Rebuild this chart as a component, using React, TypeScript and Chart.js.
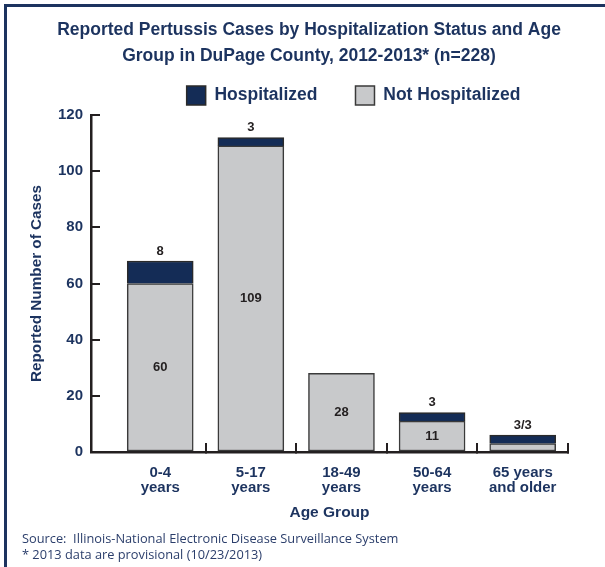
import React, { useEffect, useRef } from 'react';
import { Chart, registerables } from 'chart.js';

Chart.register(...registerables);

// ---- data ----
const ageGroupLabels: string[][] = [
  ['0-4', 'years'],
  ['5-17', 'years'],
  ['18-49', 'years'],
  ['50-64', 'years'],
  ['65 years', 'and older'],
];
const categoryPositions = [0, 1, 2, 3, 4];
const notHospitalized = [60, 109, 28, 11, 3];
const hospitalized = [8, 3, 0, 3, 3];
const notHospitalizedLabels = ['60', '109', '28', '11', ''];
const hospitalizedLabels = ['8', '3', '', '3', '3/3'];
const yTickValues = [0, 20, 40, 60, 80, 100, 120];
const titleLines = [
  'Reported Pertussis Cases by Hospitalization Status and Age',
  'Group in DuPage County, 2012-2013* (n=228)',
];
const sourceLines = [
  'Source:  Illinois-National Electronic Disease Surveillance System',
  '* 2013 data are provisional (10/23/2013)',
];

// ---- styles ----
const FONT = "'Liberation Sans', Arial, sans-serif";
const NAVY_TEXT = '#1c335f';
const NAVY_BAR = '#142c56';
const GRAY_BAR = '#c8c9cb';
const AXIS = '#231f20';

const legendShift = {
  id: 'legendShift',
  afterLayout(chart: any) {
    const lg = chart.legend;
    if (!lg) return;
    const target = 353.5;
    const dx = target - (lg.left + lg.right) / 2;
    lg.left += dx;
    lg.right += dx;
  },
};

const barLabels = {
  id: 'barLabels',
  afterDatasetsDraw(chart: any) {
    const ctx = chart.ctx;
    ctx.save();
    ctx.font = `bold 13px ${FONT}`;
    ctx.fillStyle = AXIS;
    ctx.textAlign = 'center';
    ctx.textBaseline = 'middle';
    const m0 = chart.getDatasetMeta(0);
    const m1 = chart.getDatasetMeta(1);
    m0.data.forEach((el: any, i: number) => {
      const t = notHospitalizedLabels[i];
      if (t) ctx.fillText(t, el.x, (el.y + el.base) / 2);
    });
    m1.data.forEach((el: any, i: number) => {
      const t = hospitalizedLabels[i];
      if (t) ctx.fillText(t, el.x, el.y - 10);
    });
    ctx.restore();
  },
};

export default function App() {
  const ref = useRef<HTMLCanvasElement | null>(null);

  useEffect(() => {
    if (!ref.current) return;
    const axisColor = (c: any) => (c.index === 0 ? 'rgba(0,0,0,0)' : AXIS);
    const chart = new Chart(ref.current, {
      type: 'bar',
      data: {
        datasets: [
          {
            label: 'Not Hospitalized',
            data: categoryPositions.map((x, i) => ({ x, y: notHospitalized[i] })),
            backgroundColor: GRAY_BAR,
            borderColor: '#3a3a3a',
            borderWidth: 1.5,
            borderSkipped: false,
            barThickness: 66,
          },
          {
            label: 'Hospitalized',
            data: categoryPositions.map((x, i) => ({ x, y: hospitalized[i] })),
            backgroundColor: NAVY_BAR,
            borderColor: '#2a2a2a',
            borderWidth: 1.5,
            borderSkipped: 'start',
            barThickness: 66,
          },
        ],
      } as any,
      options: {
        animation: false,
        responsive: false,
        layout: { padding: { top: 0, left: 13, right: 0, bottom: 35 } },
        plugins: {
          title: {
            display: true,
            text: titleLines,
            color: NAVY_TEXT,
            font: { family: FONT, size: 17.5, weight: 'bold', lineHeight: 26 / 17.5 },
            padding: { top: 17, bottom: -21 },
          },
          legend: {
            display: true,
            position: 'top',
            reverse: true,
            labels: {
              boxWidth: 19,
              boxHeight: 19,
              padding: 38,
              color: NAVY_TEXT,
              font: { family: FONT, size: 17.5, weight: 'bold' },
            },
          },
          tooltip: { enabled: false },
        },
        scales: {
          x: {
            type: 'linear',
            min: -0.764,
            max: 4.5,
            offset: false,
            stacked: true,
            afterBuildTicks: (s: any) => {
              s.ticks = categoryPositions.map((v) => ({ value: v }));
            },
            afterFit: (s: any) => {
              s.height = 80;
              s.paddingRight = 37;
              s.paddingLeft = 0;
            },
            ticks: {
              callback: (v: any) => ageGroupLabels[v as number],
              color: NAVY_TEXT,
              font: { family: FONT, size: 15, weight: 'bold', lineHeight: 1.0 },
              padding: 22,
              maxRotation: 0,
              autoSkip: false,
            },
            grid: {
              display: true,
              offset: true,
              drawOnChartArea: false,
              drawTicks: true,
              tickLength: -9,
              color: axisColor,
              tickColor: axisColor,
              lineWidth: 2,
              tickWidth: 2,
            },
            border: { display: true, color: AXIS, width: 2.5 },
            title: {
              display: true,
              text: 'Age Group',
              color: NAVY_TEXT,
              font: { family: FONT, size: 15.5, weight: 'bold', lineHeight: 1.2 },
              padding: { top: 0, bottom: 10 },
            },
          },
          y: {
            min: 0,
            max: 120,
            stacked: true,
            afterBuildTicks: (s: any) => {
              s.ticks = yTickValues.map((v) => ({ value: v }));
            },
            afterFit: (s: any) => {
              s.width = 78;
            },
            ticks: {
              color: NAVY_TEXT,
              font: { family: FONT, size: 15, weight: 'bold' },
              padding: 17,
            },
            grid: {
              display: true,
              drawOnChartArea: false,
              drawTicks: true,
              tickLength: -9,
              color: AXIS,
              tickColor: AXIS,
              lineWidth: 2,
              tickWidth: 2,
            },
            border: { display: true, color: AXIS, width: 2.5 },
            title: {
              display: true,
              text: 'Reported Number of Cases',
              color: NAVY_TEXT,
              font: { family: FONT, size: 15.3, weight: 'bold', lineHeight: 1.2 },
              padding: { top: 14.5, bottom: 0 },
            },
          },
        },
      } as any,
      plugins: [legendShift, barLabels],
    });
    return () => chart.destroy();
  }, []);

  return (
    <div
      style={{
        position: 'absolute',
        left: 0,
        top: 0,
        width: 605,
        height: 567,
        background: '#ffffff',
        overflow: 'hidden',
      }}
    >
      <div
        style={{
          position: 'absolute',
          left: 4,
          top: 4,
          width: 640,
          height: 640,
          borderLeft: `3px solid ${NAVY_TEXT}`,
          borderTop: `3px solid ${NAVY_TEXT}`,
        }}
      />
      <canvas
        ref={ref}
        width={605}
        height={567}
        style={{ position: 'absolute', left: 0, top: 0, width: 605, height: 567 }}
      />
      <div
        style={{
          position: 'absolute',
          left: 22,
          top: 530,
          fontFamily: "'Open Sans', Lato, sans-serif",
          fontSize: 12.8,
          lineHeight: '16px',
          color: '#2b3e6b',
          whiteSpace: 'pre',
        }}
      >
        {sourceLines.map((s, i) => (
          <div key={i}>{s}</div>
        ))}
      </div>
    </div>
  );
}
